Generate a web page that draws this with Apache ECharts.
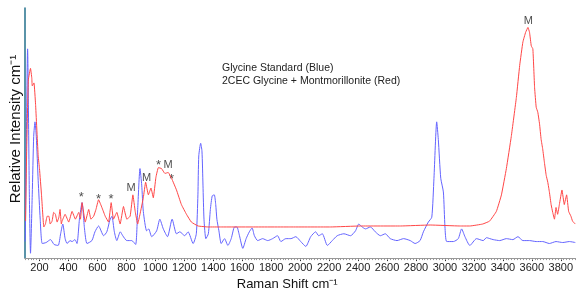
<!DOCTYPE html>
<html lang="en">

<head>
    <meta charset="utf-8">
    <title>Raman spectra - glycine</title>
    <style>
        * {
            margin: 0;
            padding: 0;
        }

        #chart-container {
            width: 576px;
            height: 296px;
            overflow: hidden;
        }
    </style>
</head>

<body>
    <div id="chart-container"></div>
    <script src="https://cdn.jsdelivr.net/npm/echarts@6/dist/echarts.min.js"></script>
    <script>
        // Raman shift (cm-1) and relative intensity
        var glycineStandard = [
            [100, 17], [102, 20], [118, 215], [130, 65], [138, 5], [150, 65], [160, 125], [169, 140],
            [178, 125], [191, 80], [205, 40], [219, 15], [246, 16], [276, 19], [301, 14], [329, 13],
            [346, 25], [361, 35], [377, 20], [391, 15], [411, 18], [425, 17], [445, 19], [459, 15],
            [476, 40], [494, 57], [511, 30], [528, 15], [562, 18], [583, 27], [608, 33], [643, 23],
            [665, 27], [686, 39], [700, 43], [717, 27], [734, 18], [758, 27], [775, 23], [803, 18],
            [837, 18], [864, 14], [878, 50], [894, 92], [906, 75], [917, 48], [940, 28], [954, 30],
            [975, 22], [1009, 28], [1031, 40], [1055, 30], [1084, 22], [1116, 40], [1146, 25], [1169, 27],
            [1203, 23], [1226, 27], [1261, 15], [1283, 25], [1294, 65], [1300, 105], [1313, 118], [1322, 110],
            [1329, 75], [1336, 40], [1349, 20], [1366, 25], [1380, 50], [1393, 64], [1407, 65], [1417, 55],
            [1425, 40], [1439, 28], [1455, 15], [1478, 20], [1501, 13], [1524, 20], [1547, 32], [1563, 32],
            [1581, 23], [1604, 10], [1627, 20], [1649, 27], [1668, 31], [1684, 23], [1707, 18], [1741, 20],
            [1776, 18], [1810, 20], [1844, 23], [1867, 17], [1901, 20], [1936, 20], [1970, 22], [2004, 17],
            [2039, 12], [2073, 22], [2107, 27], [2128, 23], [2153, 25], [2188, 13], [2222, 18], [2256, 23],
            [2302, 25], [2348, 23], [2382, 28], [2405, 35], [2428, 32], [2451, 30], [2485, 32], [2519, 27],
            [2554, 23], [2588, 25], [2622, 20], [2669, 18], [2714, 20], [2760, 18], [2794, 15], [2828, 18],
            [2851, 27], [2885, 37], [2909, 42], [2924, 82], [2943, 140], [2954, 122], [2971, 82], [2989, 68],
            [3000, 32], [3012, 17], [3058, 17], [3092, 20], [3115, 30], [3138, 22], [3172, 13], [3218, 20],
            [3264, 18], [3287, 21], [3310, 20], [3333, 19], [3378, 18], [3424, 20], [3469, 19], [3504, 22],
            [3538, 18], [3584, 18], [3630, 17], [3675, 17], [3721, 15], [3767, 17], [3813, 16], [3859, 17],
            [3900, 16]
        ];

        var glycineMontmorillonite = [
            [104, 38], [112, 115], [123, 183], [138, 195], [147, 185], [150, 177], [162, 180], [173, 158],
            [191, 105], [200, 92], [214, 65], [230, 32], [241, 35], [253, 43], [265, 43], [274, 35],
            [287, 38], [298, 47], [310, 45], [322, 37], [334, 42], [342, 50], [351, 35], [356, 38],
            [377, 45], [402, 37], [425, 48], [448, 40], [471, 47], [483, 40], [494, 57], [516, 37],
            [540, 50], [555, 40], [574, 43], [590, 50], [608, 60], [631, 52], [654, 43], [677, 37],
            [695, 57], [711, 40], [734, 47], [757, 35], [780, 53], [803, 40], [826, 43], [845, 65],
            [861, 48], [878, 35], [894, 45], [917, 62], [933, 78], [952, 65], [970, 72], [986, 62],
            [1004, 83], [1021, 93], [1043, 92], [1066, 87], [1089, 88], [1112, 82], [1146, 70], [1180, 55],
            [1215, 45], [1249, 37], [1295, 33], [1364, 32], [1455, 32], [1661, 32], [1936, 32], [2211, 32],
            [2417, 33], [2692, 33], [2898, 34], [3103, 33], [3172, 33], [3260, 35], [3308, 38], [3355, 48],
            [3390, 65], [3424, 92], [3458, 125], [3493, 165], [3516, 198], [3538, 222], [3557, 232], [3573, 237],
            [3584, 232], [3596, 218], [3607, 215], [3619, 175], [3630, 155], [3641, 150], [3653, 138], [3664, 122],
            [3675, 112], [3687, 98], [3699, 85], [3710, 78], [3721, 68], [3733, 55], [3744, 47], [3756, 40],
            [3767, 52], [3778, 45], [3790, 55], [3808, 70], [3824, 55], [3840, 65], [3854, 48], [3870, 43],
            [3881, 38], [3900, 35]
        ];

        // peak markers: shift, height, mark
        var peakMarks = [
            [488, 65, '*'], [608, 63, '*'], [694, 63, '*'], [832, 72, 'M'], [939, 82, 'M'],
            [1022, 98, '*'], [1088, 96, 'M'], [1111, 84, '*'], [3575, 244, 'M']
        ];

        var tickLabels = [200, 400, 600, 800, 1000, 1200, 1400, 1600, 1800, 2000,
            2200, 2400, 2600, 2800, 3000, 3200, 3400, 3600, 3800];

        var dom = document.getElementById('chart-container');
        var myChart = echarts.init(dom, null, { renderer: 'canvas' });
        var font = 'Liberation Sans, Arial, sans-serif';

        var option = {
            animation: false,
            textStyle: { fontFamily: font },
            title: {
                text: 'Glycine Standard (Blue)\n2CEC Glycine + Montmorillonite (Red)',
                left: 222,
                top: 62,
                padding: 0,
                textStyle: {
                    fontSize: 10.5,
                    fontWeight: 'normal',
                    color: '#222',
                    lineHeight: 13,
                    fontFamily: font
                }
            },
            grid: {
                left: 23,
                right: 0,
                top: 8,
                bottom: 31
            },
            xAxis: [
                {
                    type: 'value',
                    min: 100,
                    max: 3900,
                    name: 'Raman Shift cm⁻¹',
                    nameLocation: 'middle',
                    nameGap: 15,
                    nameTextStyle: {
                        fontSize: 13,
                        color: '#111',
                        padding: [0, 26, 0, 0]
                    },
                    axisLine: { lineStyle: { color: '#999' } },
                    axisTick: {
                        customValues: tickLabels,
                        length: 3,
                        lineStyle: { color: '#222' }
                    },
                    axisLabel: {
                        customValues: tickLabels,
                        fontSize: 11,
                        color: '#222',
                        margin: 4,
                        formatter: function (v) {
                            return String(v);
                        }
                    },
                    splitLine: { show: false }
                },
                {
                    // fine ticks every 20 cm-1
                    type: 'value',
                    min: 100,
                    max: 3900,
                    interval: 20,
                    position: 'bottom',
                    axisLine: { show: false },
                    axisTick: { length: 2, lineStyle: { color: '#999' } },
                    axisLabel: { show: false },
                    splitLine: { show: false }
                }
            ],
            yAxis: {
                type: 'value',
                min: 0,
                max: 257,
                name: 'Relative Intensity cm⁻¹',
                nameLocation: 'middle',
                nameGap: 2,
                nameTextStyle: {
                    fontSize: 15,
                    color: '#111',
                    padding: [0, 0, 0, 8]
                },
                axisLine: { show: true, lineStyle: { color: '#23708c', width: 1.5 } },
                axisTick: { show: false },
                axisLabel: { show: false },
                splitLine: { show: false }
            },
            series: [
                {
                    name: 'Glycine Standard',
                    type: 'line',
                    symbol: 'none',
                    smooth: 0.2,
                    lineStyle: { color: '#6464ff', width: 1 },
                    data: glycineStandard
                },
                {
                    name: '2CEC Glycine + Montmorillonite',
                    type: 'line',
                    symbol: 'none',
                    smooth: 0.1,
                    lineStyle: { color: '#ff4646', width: 1 },
                    data: glycineMontmorillonite
                },
                {
                    type: 'scatter',
                    silent: true,
                    symbolSize: 1,
                    itemStyle: { color: 'rgba(0,0,0,0)' },
                    label: {
                        show: true,
                        position: 'inside',
                        fontSize: 11,
                        color: '#222',
                        formatter: function (p) {
                            return p.value[2] === '*' ? '{s|*}' : p.value[2];
                        },
                        rich: {
                            s: { fontSize: 13, color: '#222', padding: [6, 0, 0, 0] }
                        }
                    },
                    data: peakMarks
                }
            ]
        };

        myChart.setOption(option);
        window.addEventListener('resize', myChart.resize);
    </script>
</body>

</html>
